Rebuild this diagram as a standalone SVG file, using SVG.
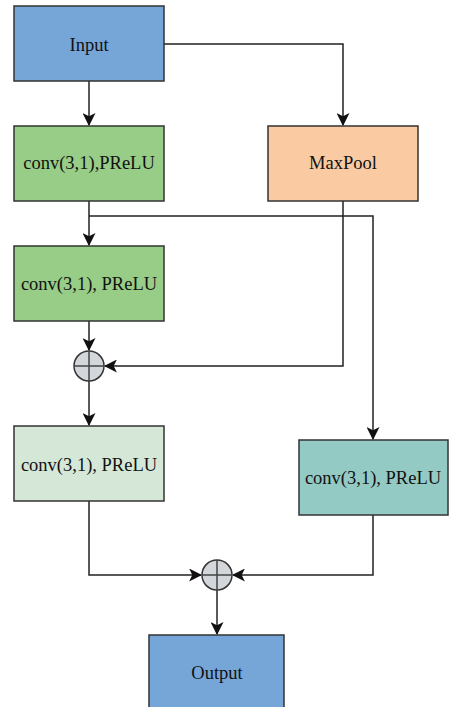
<svg xmlns="http://www.w3.org/2000/svg" width="454" height="707" viewBox="0 0 454 707">
<style>
.box{stroke:#333;stroke-width:1.5}
.lbl{font-family:"Liberation Serif","Times New Roman",serif;font-size:18.5px;fill:#111;text-anchor:middle;dominant-baseline:central}
.con{fill:none;stroke:#222;stroke-width:1.5}
.sum{fill:#D3D6DA;stroke:#333;stroke-width:1.5}
.cross{stroke:#444;stroke-width:1.5}
</style>
<defs>
<marker id="arr" viewBox="0 0 12 12" refX="11" refY="6" markerWidth="13" markerHeight="13" markerUnits="userSpaceOnUse" orient="auto">
<path d="M0,0 L12,6 L0,12 L3,6 Z" fill="#111"/>
</marker>
</defs>
<rect width="454" height="707" fill="#fff"/>
<g id="connectors">
<path class="con" d="M89,81 V125" marker-end="url(#arr)"/>
<path class="con" d="M164,44 H343 V125" marker-end="url(#arr)"/>
<path class="con" d="M89,201 V245" marker-end="url(#arr)"/>
<path class="con" d="M89,216 H373 V439" marker-end="url(#arr)"/>
<path class="con" d="M343,201 V366 H105" marker-end="url(#arr)"/>
<path class="con" d="M89,321 V350" marker-end="url(#arr)"/>
<path class="con" d="M89,381 V425" marker-end="url(#arr)"/>
<path class="con" d="M89,501 V575 H201" marker-end="url(#arr)"/>
<path class="con" d="M373,515 V575 H233" marker-end="url(#arr)"/>
<path class="con" d="M217,590 V634" marker-end="url(#arr)"/>
</g>
<g id="input"><rect class="box" x="14" y="6" width="150" height="75" fill="#76A6D8"/><text class="lbl" x="89" y="45">Input</text></g>
<g id="conv1"><rect class="box" x="14" y="126" width="150" height="75" fill="#97CD87"/><text class="lbl" x="89" y="163">conv(3,1),PReLU</text></g>
<g id="maxpool"><rect class="box" x="268" y="126" width="150" height="75" fill="#FACBA3"/><text class="lbl" x="343" y="163">MaxPool</text></g>
<g id="conv2"><rect class="box" x="14" y="246" width="150" height="75" fill="#97CD87"/><text class="lbl" x="89" y="284">conv(3,1), PReLU</text></g>
<g id="sum1"><circle class="sum" cx="89" cy="366" r="15"/><path class="cross" d="M74,366 H104 M89,351 V381"/></g>
<g id="conv3"><rect class="box" x="14" y="426" width="150" height="75" fill="#D5E8D8"/><text class="lbl" x="89" y="465">conv(3,1), PReLU</text></g>
<g id="conv4"><rect class="box" x="299" y="440" width="149" height="75" fill="#94CAC4"/><text class="lbl" x="373" y="478">conv(3,1), PReLU</text></g>
<g id="sum2"><circle class="sum" cx="217" cy="575" r="15"/><path class="cross" d="M202,575 H232 M217,560 V590"/></g>
<g id="output"><rect class="box" x="149" y="635" width="135" height="80" fill="#76A6D8"/><text class="lbl" x="217" y="673">Output</text></g>
</svg>
